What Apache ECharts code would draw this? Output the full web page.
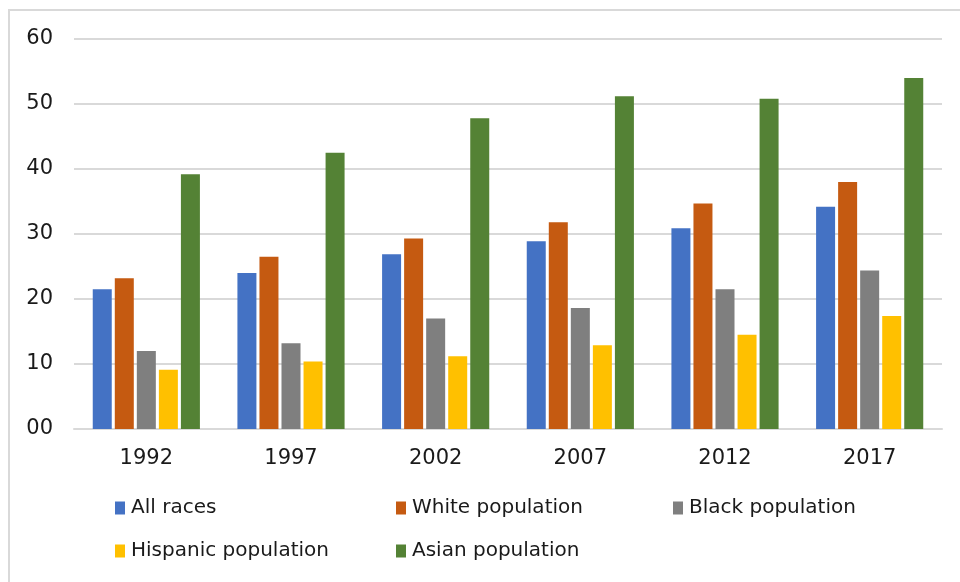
<!DOCTYPE html>
<html>
<head>
<meta charset="utf-8">
<script src="https://cdn.jsdelivr.net/npm/echarts@6/dist/echarts.min.js"></script>
<style>
  html, body { margin: 0; padding: 0; background: #ffffff; }
  #chart { width: 960px; height: 582px; }
</style>
</head>
<body>
<div id="chart"></div>
<script>
// Years on the category axis
const years = ['1992', '1997', '2002', '2007', '2012', '2017'];

// Series names (legend order)
const seriesNames = ['All races', 'White population', 'Black population', 'Hispanic population', 'Asian population'];

// Values per group, one entry per year
const allRaces   = [21.5, 24.0, 26.9, 28.9, 30.9, 34.2];
const whitePop   = [23.2, 26.5, 29.3, 31.8, 34.7, 38.0];
const blackPop   = [12.0, 13.2, 17.0, 18.6, 21.5, 24.4];
const hispanicPop = [9.1, 10.4, 11.2, 12.9, 14.5, 17.4];
const asianPop   = [39.2, 42.5, 47.8, 51.2, 50.8, 54.0];

// Value-axis tick labels (the zero tick is printed as "00")
const yTickLabels = { 0: '00', 10: '10', 20: '20', 30: '30', 40: '40', 50: '50', 60: '60' };

const colors = ['#4472C4', '#C55A11', '#7F7F7F', '#FFC000', '#548235'];
const seriesData = [allRaces, whitePop, blackPop, hispanicPop, asianPop];

const FONT = 'DejaVu Sans, Liberation Sans, sans-serif';

const chart = echarts.init(document.getElementById('chart'), null, { renderer: 'canvas' });

// One legend block per entry so each sits in its own column
const legendPos = [
  { left: 115, top: 498 },
  { left: 396, top: 498 },
  { left: 673, top: 498 },
  { left: 115, top: 541 },
  { left: 396, top: 541 }
];
const legends = seriesNames.map((name, i) => ({
  data: [name],
  left: legendPos[i].left,
  top: legendPos[i].top,
  padding: 0,
  itemWidth: 10,
  itemHeight: 13,
  itemGap: 0,
  icon: 'rect',
  selectedMode: false,
  textStyle: { fontFamily: FONT, fontSize: 20, color: '#1a1a1a', padding: [0, 0, 0, 1] }
}));

chart.setOption({
  animation: false,
  backgroundColor: '#ffffff',
  color: colors,
  graphic: [{
    type: 'rect',
    shape: { x: 9, y: 10, width: 980, height: 620 },
    style: { fill: 'none', stroke: '#d9d9d9', lineWidth: 2 },
    silent: true
  }],
  legend: legends,
  grid: { left: 74, right: 18, top: 39, bottom: 153 },
  xAxis: {
    type: 'category',
    data: years,
    axisLine: { show: true, lineStyle: { color: '#d9d9d9', width: 2 } },
    axisTick: { show: false },
    axisLabel: { fontFamily: FONT, fontSize: 21, color: '#1a1a1a', margin: 19 }
  },
  yAxis: {
    type: 'value',
    min: 0,
    max: 60,
    interval: 10,
    axisLine: { show: false },
    axisTick: { show: false },
    splitLine: { lineStyle: { color: '#d9d9d9', width: 2 } },
    axisLabel: {
      fontFamily: FONT, fontSize: 21, color: '#1a1a1a', margin: 21,
      formatter: v => yTickLabels[v] !== undefined ? yTickLabels[v] : String(v)
    }
  },
  series: seriesNames.map((name, i) => ({
    name: name,
    type: 'bar',
    data: seriesData[i],
    barWidth: 19,
    barGap: '16%',
    itemStyle: { color: colors[i] }
  }))
});
</script>
</body>
</html>
